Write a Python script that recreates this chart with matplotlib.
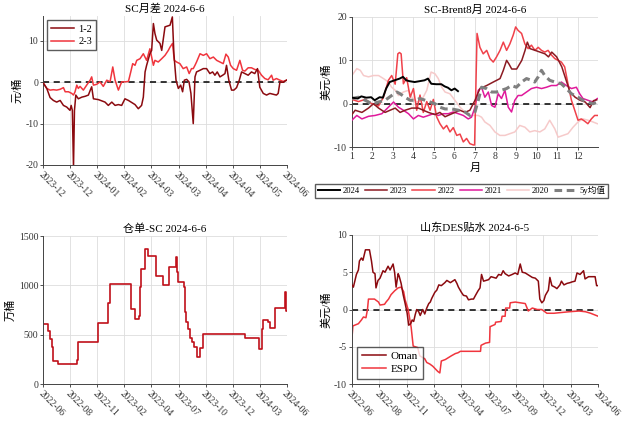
import numpy as np
import matplotlib
matplotlib.use('Agg')
import matplotlib.pyplot as plt

plt.rcParams['font.family'] = ['Liberation Serif', 'Noto Sans CJK SC']
plt.rcParams['axes.unicode_minus'] = False

# ---- SC月差 (trading-day index, 元/桶)
spread_labels = ['2023-12', '2023-12', '2024-01', '2024-02', '2024-03',
                 '2024-03', '2024-04', '2024-04', '2024-05', '2024-06']
d12 = [0.2, 1.9, 3.6, 5.3, 7.0, 8.8, 10.5, 12.2, 13.9, 14.5, 15.1, 15.7, 16.2, 16.9, 18.2, 20.0,
       21.7, 23.4, 24.3, 25.1, 26.0, 28.6, 30.3, 32.0, 33.7, 35.5, 37.2, 38.9, 40.6, 42.3, 44.1,
       45.8, 47.5, 49.2, 50.9, 51.8, 52.7, 53.5, 55.2, 56.1, 57.0, 57.8, 58.7, 60.4, 61.3, 63.0,
       65.6, 66.8, 67.6, 68.7, 69.9, 71.1, 72.1, 73.0, 74.2, 75.4, 76.4, 77.6, 78.5, 79.3, 81.1,
       82.8, 84.5, 86.2, 87.6, 88.8, 90.0, 91.4, 92.8, 94.0, 94.8, 96.0, 97.4, 98.6, 100.0, 101.4,
       102.6, 104.3, 106.0, 107.7, 109.4, 110.8, 112.0, 113.8, 115.5, 117.2, 118.9, 120.6, 121.5,
       122.4, 124.1, 125.8]
v12 = [-0.3, -1.5, -3.7, -4.4, -4.8, -4.4, -5.6, -6.0, -6.8, -5.6, -6.8, -20.5, -6.8, -3.1, -4.0,
       -3.6, -3.4, -3.1, -2.0, -1.1, -4.0, -4.2, -4.5, -4.8, -5.6, -4.8, -5.6, -5.4, -5.6, -4.0,
       -4.4, -4.9, -5.4, -6.4, -5.6, -3.6, 2.5, 4.1, 6.9, 7.7, 14.2, 11.8, 10.2, 9.4, 7.7, 13.4,
       13.8, 15.8, 6.9, 0.5, -1.5, -0.7, -2.3, 0.5, 0.7, 0.1, -2.7, -10.0, 1.3, 2.5, 2.9, 3.3, 3.3,
       2.1, 2.5, 1.7, 2.5, 1.3, 1.7, 2.1, 4.1, 0.5, -1.9, -1.9, -1.3, 0.5, 2.5, 2.1, 1.7, 2.5, 2.1,
       3.3, -1.2, -2.7, -3.1, -2.7, -2.9, -3.1, -2.7, 0.0, 0.0, 0.5]
d23 = [0.2, 1.9, 3.6, 5.3, 7.0, 8.8, 10.5, 11.4, 13.1, 14.8, 15.7, 16.5, 17.4, 18.2, 19.1, 20.8,
       22.5, 24.3, 25.1, 26.0, 27.7, 29.4, 31.1, 32.9, 34.6, 36.0, 37.2, 38.9, 40.6, 42.3, 44.1,
       45.3, 46.3, 47.5, 48.4, 50.1, 51.8, 53.5, 55.2, 56.1, 57.0, 57.8, 59.5, 61.3, 63.0, 64.7,
       65.6, 66.9, 67.8, 69.0, 70.7, 72.4, 74.2, 75.5, 76.7, 77.6, 78.5, 79.3, 81.1, 82.8, 84.5,
       86.2, 88.0, 89.7, 91.4, 93.1, 94.5, 95.7, 96.9, 98.3, 100.0, 101.7, 103.1, 104.3, 106.0,
       107.7, 109.4, 111.2, 112.9, 114.6, 116.3, 118.1, 118.9, 120.6, 122.4, 124.1, 125.8]
v23 = [-0.2, -1.5, -1.9, -1.8, -1.9, -1.7, -1.3, -2.3, -2.3, -2.7, -3.1, -2.3, -0.7, -1.5, -1.0,
       -1.9, -0.7, 0.5, 1.3, -0.7, -0.5, 0.1, -1.0, 0.5, 0.1, 3.7, 0.5, -1.9, 0.1, 0.1, 0.2, 2.5,
       4.5, 4.1, 5.3, 5.7, 6.9, 5.3, 8.1, 6.1, 4.1, 5.3, 4.9, 5.7, 6.5, 7.7, 8.5, 9.4, 5.3, 4.9,
       4.5, 3.3, 3.7, 2.1, 3.3, 3.3, 4.1, 4.9, 6.9, 6.5, 6.9, 5.7, 6.1, 5.3, 4.9, 4.5, 6.8, 6.1,
       4.1, 3.3, 2.9, 5.3, 2.9, 2.7, 3.5, 3.5, 3.1, 2.9, 1.7, 0.9, 0.6, 1.7, 0.5, 0.9, 0.5, 0.2, 0.5]

# ---- SC-Brent8月 (month, 美元/桶)
m24 = [1.0, 1.29, 1.46, 1.70, 1.94, 2.11, 2.35, 2.51, 2.67, 2.84, 3.08, 3.33, 3.49, 3.65, 3.81,
       4.06, 4.30, 4.54, 4.71, 4.87, 5.11, 5.36, 5.52, 5.68, 5.85, 6.01, 6.17]
y24 = [1.4, 1.2, 1.7, 1.4, 1.5, 0.8, 1.5, 1.4, 3.5, 5.0, 5.4, 5.8, 6.2, 5.4, 5.2, 5.0, 5.2, 5.4,
       5.8, 4.6, 4.5, 4.5, 4.0, 3.7, 3.1, 3.5, 2.9]
m23 = [1.0, 1.16, 1.49, 1.81, 2.05, 2.30, 2.62, 2.86, 3.11, 3.35, 3.59, 3.92, 4.24, 4.48, 4.73,
       5.05, 5.29, 5.54, 5.78, 6.02, 6.27, 6.51, 6.75, 7.0, 7.24, 7.57, 7.89, 8.22, 8.38, 8.54,
       8.65, 8.79, 9.03, 9.28, 9.44, 9.55, 9.68, 9.93, 10.17, 10.41, 10.58, 10.74, 10.98, 11.23,
       11.47, 11.63, 11.88, 12.12, 12.37, 12.61, 12.77, 12.93]
y23 = [-2.5, -1.5, -2.0, -1.0, 0.0, -1.0, -2.0, -1.5, -1.0, -2.0, -1.5, -1.0, -1.0, -1.5, -2.0,
       -2.5, -2.0, -3.0, -2.5, -2.0, -1.5, -2.0, -1.5, 0.8, 3.5, 4.2, 5.0, 5.8, 7.7, 10.0, 9.2,
       8.0, 8.0, 10.0, 12.3, 14.2, 12.7, 12.3, 11.9, 11.5, 10.8, 11.9, 10.8, 8.5, 5.0, 2.7, 1.5,
       0.8, 0.4, -0.9, 0.7, 0.9]
m22 = [1.0, 1.32, 1.65, 1.97, 2.30, 2.54, 2.78, 2.94, 3.11, 3.24, 3.32, 3.40, 3.51, 3.67, 3.84,
       4.0, 4.16, 4.32, 4.48, 4.65, 4.81, 4.97, 5.13, 5.29, 5.46, 5.62, 5.78, 5.94, 6.11, 6.27,
       6.43, 6.59, 6.75, 6.92, 6.98, 7.1, 7.24, 7.4, 7.57, 7.73, 7.89, 8.05, 8.22, 8.38, 8.54,
       8.7, 8.86, 8.98, 9.1, 9.27, 9.43, 9.59, 9.75, 9.92, 10.08, 10.24, 10.4, 10.56, 10.73,
       10.89, 11.05, 11.21, 11.37, 11.53, 11.7, 11.86, 12.02, 12.18, 12.34, 12.5, 12.67, 12.83,
       12.96]
y22 = [1.0, 0.5, 1.0, 0.0, -0.5, 1.5, 5.4, 6.5, 4.5, 11.5, 11.8, 11.5, 4.6, 6.0, 1.5, 3.5, -1.5,
       2.0, -2.0, 0.5, -1.5, 1.0, -3.0, -4.6, -5.8, -5.0, -6.5, -5.5, -7.3, -7.0, -8.8, -8.0,
       -9.2, -9.5, -9.5, 16.2, 13.0, 11.5, 12.3, 10.4, 9.6, 10.8, 12.3, 14.2, 12.3, 13.8, 15.8,
       17.7, 16.9, 16.2, 13.8, 12.7, 13.5, 12.3, 13.0, 12.3, 11.9, 12.3, 11.2, 10.4, 10.0, 9.6,
       8.5, 4.6, 0.8, -1.5, -3.8, -3.5, -4.0, -4.6, -3.5, -2.7, -2.7]
m21 = [1.0, 1.24, 1.49, 1.81, 2.13, 2.46, 2.78, 3.03, 3.27, 3.51, 3.76, 4.0, 4.24, 4.48, 4.73,
       4.97, 5.21, 5.46, 5.7, 5.94, 6.19, 6.43, 6.67, 6.83, 7.0, 7.16, 7.32, 7.48, 7.65, 7.81,
       7.97, 8.13, 8.29, 8.46, 8.62, 8.78, 8.94, 9.1, 9.27, 9.51, 9.75, 10.0, 10.24, 10.48, 10.72,
       10.97, 11.21, 11.45, 11.7, 11.94, 12.1, 12.26, 12.5, 12.75, 12.96]
y21 = [-3.8, -2.7, -3.5, -2.9, -2.7, -2.3, -0.8, 0.4, -0.8, -1.5, -2.3, -3.5, -2.7, -3.1, -2.7,
       -2.3, -2.7, -2.3, -2.3, -1.9, -2.3, -2.7, -3.5, -3.1, -0.8, 3.1, 3.8, 1.5, 2.7, -0.4, -0.8,
       2.3, 1.2, 3.1, -0.8, -1.9, 0.8, 1.9, 1.9, 2.7, 3.5, 3.8, 3.5, 3.8, 4.2, 4.2, 5.0, 4.2, 3.5,
       3.8, 2.3, 1.2, 0.8, 0.4, 1.2]
m20 = [1.0, 1.24, 1.41, 1.57, 1.81, 2.05, 2.30, 2.54, 2.78, 2.94, 3.11, 3.27, 3.51, 3.76, 3.92,
       4.16, 4.40, 4.65, 4.86, 5.05, 5.21, 5.38, 5.54, 5.78, 6.02, 6.27, 6.51, 6.75, 7.0, 7.16,
       7.32, 7.48, 7.73, 7.97, 8.21, 8.46, 8.70, 8.94, 9.18, 9.43, 9.67, 9.91, 10.16, 10.40,
       10.64, 10.89, 11.05, 11.29, 11.53, 11.78, 12.02, 12.26, 12.51, 12.75, 12.96]
y20 = [6.5, 8.1, 7.7, 6.5, 6.2, 6.5, 6.5, 5.8, 5.0, 3.8, 3.1, 1.9, 2.7, 3.1, 1.5, 0.4, 0.8, 3.1,
       7.3, 6.9, 5.8, 3.8, 2.7, 2.3, 0.8, -0.8, -1.9, -2.7, -2.7, -2.7, -3.1, -4.2, -5.0, -6.5,
       -7.3, -7.3, -6.9, -6.5, -5.0, -5.4, -6.5, -6.2, -6.5, -5.8, -3.8, -5.8, -7.7, -7.3, -6.9,
       -5.4, -4.2, -3.5, -3.8, -4.2, -4.6]
m5y = [1.0, 1.32, 1.65, 1.97, 2.30, 2.62, 2.94, 3.19, 3.35, 3.59, 3.84, 4.08, 4.32, 4.57, 4.81,
       5.05, 5.29, 5.54, 5.86, 6.19, 6.51, 6.75, 7.0, 7.16, 7.32, 7.56, 7.81, 8.05, 8.29, 8.54,
       8.78, 9.02, 9.27, 9.51, 9.75, 9.91, 10.08, 10.24, 10.40, 10.64, 10.89, 11.21, 11.45,
       11.70, 12.02, 12.26, 12.51, 12.75, 12.96]
y5y = [1.2, 1.5, 0.8, 0.0, 0.4, 0.8, 1.9, 2.7, 2.3, 1.5, 0.8, 0.8, 1.2, 0.8, 0.4, 0.0, -0.8,
       -1.2, -1.2, -1.5, -1.9, -2.7, -1.9, 0.8, 3.8, 3.5, 2.7, 2.7, 3.1, 3.5, 4.2, 3.8, 5.0, 5.8,
       5.4, 5.0, 6.2, 7.7, 6.5, 5.4, 5.0, 4.6, 3.5, 2.3, 1.5, 0.8, 0.4, 0.0, 0.4]

# ---- 仓单-SC (trading-day index, 万桶)
long_labels_a = ['2022-06', '2022-08', '2022-11', '2023-02', '2023-04',
                 '2023-07', '2023-10', '2023-12', '2024-03', '2024-06']
ck_day = [0, 10, 13, 17, 20, 23, 30, 68, 71, 111, 130, 135, 177, 184, 192, 195, 197, 204, 210,
          226, 240, 254, 268, 269, 272, 283, 286, 288, 292, 296, 300, 304, 310, 316, 322, 406,
          433, 439, 442, 453, 456, 466, 486, 489, 490]
ck_val = [610, 540, 460, 378, 235, 230, 200, 240, 430, 620, 820, 1020, 760, 660, 690, 980, 1170,
          1370, 1300, 1100, 1000, 1190, 1290, 1140, 1040, 980, 730, 630, 560, 470, 430, 380, 280,
          370, 510, 470, 360, 560, 650, 630, 570, 770, 930, 740, 740]

# ---- 山东DES贴水 (trading-day index, 美元/桶)
long_labels_b = ['2022-06', '2022-08', '2022-11', '2023-02', '2023-04',
                 '2023-07', '2023-09', '2023-12', '2024-03', '2024-06']
om_day = [0, 3, 9, 13, 15, 19, 22, 27, 35, 39, 42, 46, 48, 52, 56, 62, 66, 72, 76, 82, 85, 88,
          92, 94, 98, 102, 106, 110, 113, 117, 120, 123, 126, 129, 133, 136, 141, 145, 149, 153,
          156, 159, 165, 169, 173, 178, 185, 189, 196, 205, 209, 212, 218, 222, 228, 232, 238,
          242, 246, 251, 255, 258, 262, 267, 272, 277, 282, 287, 292, 297, 301, 305, 312, 319,
          325, 330, 335, 339, 345, 352, 359, 365, 371, 374, 378, 382, 385, 391, 394, 398, 404,
          408, 414, 417, 422, 428, 434, 438, 444, 448, 454, 461, 464, 471, 477, 484, 487, 490]
om_val = [3.3, 3.0, 4.7, 5.3, 6.5, 6.9, 6.6, 8.0, 8.0, 6.5, 5.0, 4.8, 2.9, 3.9, 4.2, 5.2, 5.0,
          5.8, 5.3, 6.1, 5.0, 3.0, 4.8, 4.5, 3.5, 2.0, 0.8, -0.5, -2.1, -1.9, -1.4, -1.6, -0.7,
          0.0, -0.3, -0.8, 0.0, -0.6, 0.2, 0.8, 1.0, 1.5, 2.3, 2.6, 3.3, 3.2, 3.6, 3.9, 3.6, 4.0,
          3.5, 3.0, 2.3, 1.9, 1.8, 1.3, 1.4, 1.4, 1.9, 2.5, 2.9, 4.7, 3.8, 3.9, 4.0, 4.4, 4.3,
          4.2, 4.7, 4.6, 5.2, 4.8, 4.5, 4.7, 4.9, 4.7, 6.1, 5.0, 4.9, 4.6, 4.3, 4.2, 3.8, 1.4,
          0.9, 1.2, 1.9, 2.6, 4.3, 3.2, 3.0, 2.8, 3.3, 3.8, 3.3, 3.5, 3.6, 3.7, 3.8, 4.9, 4.7,
          5.2, 4.1, 4.4, 4.4, 4.4, 3.2, 3.2]
es_day = [0, 2, 13, 19, 23, 28, 31, 33, 45, 53, 56, 65, 68, 73, 78, 85, 92, 98, 103, 106, 112,
          115, 118, 122, 131, 135, 145, 149, 155, 161, 171, 175, 178, 186, 198, 206, 211, 216,
          256, 257, 266, 274, 275, 285, 286, 297, 299, 305, 306, 314, 315, 325, 335, 345, 351,
          359, 369, 378, 388, 402, 432, 452, 465, 475, 490]
es_val = [-4.0, -2.2, -1.9, -1.4, -1.0, -1.1, 0.0, 1.4, 1.4, 1.0, 0.6, 0.7, 1.0, 1.4, 2.0, 2.5,
          2.9, 3.0, 2.4, 1.3, 0.0, -1.2, -2.4, -4.9, -5.1, -6.2, -6.6, -7.1, -7.3, -7.6, -8.3,
          -8.5, -6.9, -6.7, -6.2, -5.9, -5.8, -5.6, -5.6, -4.8, -4.5, -4.4, -2.3, -2.0, -1.7,
          -1.6, -0.9, -0.9, 0.2, 0.2, 0.9, 1.0, 0.9, 0.8, -0.2, 0.2, 0.0, 0.0, -0.5, -0.5, -0.3,
          -0.2, -0.3, -0.5, -0.9]

DARK = '#8B0A0F'
RED = '#F0353D'


def style(ax, zero=True):
    for s in ['top', 'right']:
        ax.spines[s].set_visible(False)
    for s in ['left', 'bottom']:
        ax.spines[s].set_color('#444444')
        ax.spines[s].set_linewidth(0.7)
    ax.grid(True, color='#DDDDDD', lw=0.6)
    ax.set_axisbelow(True)
    ax.tick_params(labelsize=7, length=2, width=0.6, colors='#333333', pad=1.5)
    if zero:
        ax.axhline(0, color='black', ls=(0, (4, 3)), lw=1.1, zorder=1)


def date_ticks(ax, n, labels):
    ax.set_xlim(0, n)
    ax.set_xticks(np.linspace(0, n, len(labels)))
    ax.set_xticklabels(labels, rotation=-45, ha='left', va='top', rotation_mode='anchor')


fig = plt.figure(figsize=(6.25, 4.24), dpi=100)

# top left
ax1 = fig.add_axes([0.069, 0.611, 0.390, 0.351])
style(ax1)
ax1.plot(d12, v12, color=DARK, lw=1.1, label='1-2', zorder=3)
ax1.plot(d23, v23, color=RED, lw=1.1, label='2-3', zorder=2)
date_ticks(ax1, 126, spread_labels)
ax1.set_ylim(-20, 16)
ax1.set_yticks([-20, -10, 0, 10])
ax1.set_ylabel('元/桶', fontsize=8, labelpad=2)
ax1.set_title('SC月差 2024-6-6', fontsize=8, pad=3)
ax1.legend(loc='upper left', fontsize=7.5, fancybox=False, edgecolor='#333333',
           handlelength=2.2, borderpad=0.4, labelspacing=0.3, handletextpad=0.4,
           borderaxespad=0.4)

# top right
ax2 = fig.add_axes([0.563, 0.653, 0.394, 0.307])
style(ax2)
ax2.plot(m20, y20, color='#F6CACA', lw=1.1, label='2020', zorder=2)
ax2.plot(m21, y21, color='#E0199B', lw=1.1, label='2021', zorder=3)
ax2.plot(m22, y22, color='#F0414A', lw=1.1, label='2022', zorder=3)
ax2.plot(m23, y23, color='#8B1A22', lw=1.1, label='2023', zorder=4)
ax2.plot(m24, y24, color='black', lw=1.4, label='2024', zorder=5)
ax2.plot(m5y, y5y, color='#7F7F7F', lw=2.2, ls=(0, (2.5, 1.5)), label='5y均值', zorder=4)
ax2.set_xlim(1, 13)
ax2.set_xticks(range(1, 13))
ax2.set_ylim(-10, 20)
ax2.set_yticks([-10, 0, 10, 20])
ax2.set_xlabel('月', fontsize=8, labelpad=1)
ax2.set_ylabel('美元/桶', fontsize=8, labelpad=2)
ax2.set_title('SC-Brent8月 2024-6-6', fontsize=8, pad=3)
h, l = ax2.get_legend_handles_labels()
order = [4, 3, 2, 1, 0, 5]
ax2.legend([h[i] for i in order], [l[i] for i in order], loc='center',
           bbox_to_anchor=(0.445, -0.335), ncol=6, fontsize=6.2, fancybox=False,
           edgecolor='#333333', handlelength=2.6, columnspacing=0.6, handletextpad=0.3,
           borderpad=0.3, borderaxespad=0)

# bottom left
ax3 = fig.add_axes([0.069, 0.094, 0.390, 0.349])
style(ax3, zero=False)
ax3.plot(ck_day, ck_val, color='#C0101A', lw=1.2, drawstyle='steps-post')
date_ticks(ax3, 490, long_labels_a)
ax3.set_ylim(0, 1500)
ax3.set_yticks([0, 500, 1000, 1500])
ax3.set_ylabel('万桶', fontsize=8, labelpad=2)
ax3.set_title('仓单-SC 2024-6-6', fontsize=8, pad=3)

# bottom right
ax4 = fig.add_axes([0.563, 0.094, 0.394, 0.352])
style(ax4)
ax4.plot(om_day, om_val, color=DARK, lw=1.1, label='Oman', zorder=3)
ax4.plot(es_day, es_val, color=RED, lw=1.1, label='ESPO', zorder=2)
date_ticks(ax4, 490, long_labels_b)
ax4.set_ylim(-10, 10)
ax4.set_yticks([-10, -5, 0, 5, 10])
ax4.set_ylabel('美元/桶', fontsize=8, labelpad=2)
ax4.set_title('山东DES贴水 2024-6-5', fontsize=8, pad=3)
ax4.legend(loc='lower left', fontsize=8, fancybox=False, edgecolor='#333333',
           handlelength=2.2, borderpad=0.4, labelspacing=0.3, handletextpad=0.4,
           borderaxespad=0.5)

fig.savefig('out.png', dpi=100)
